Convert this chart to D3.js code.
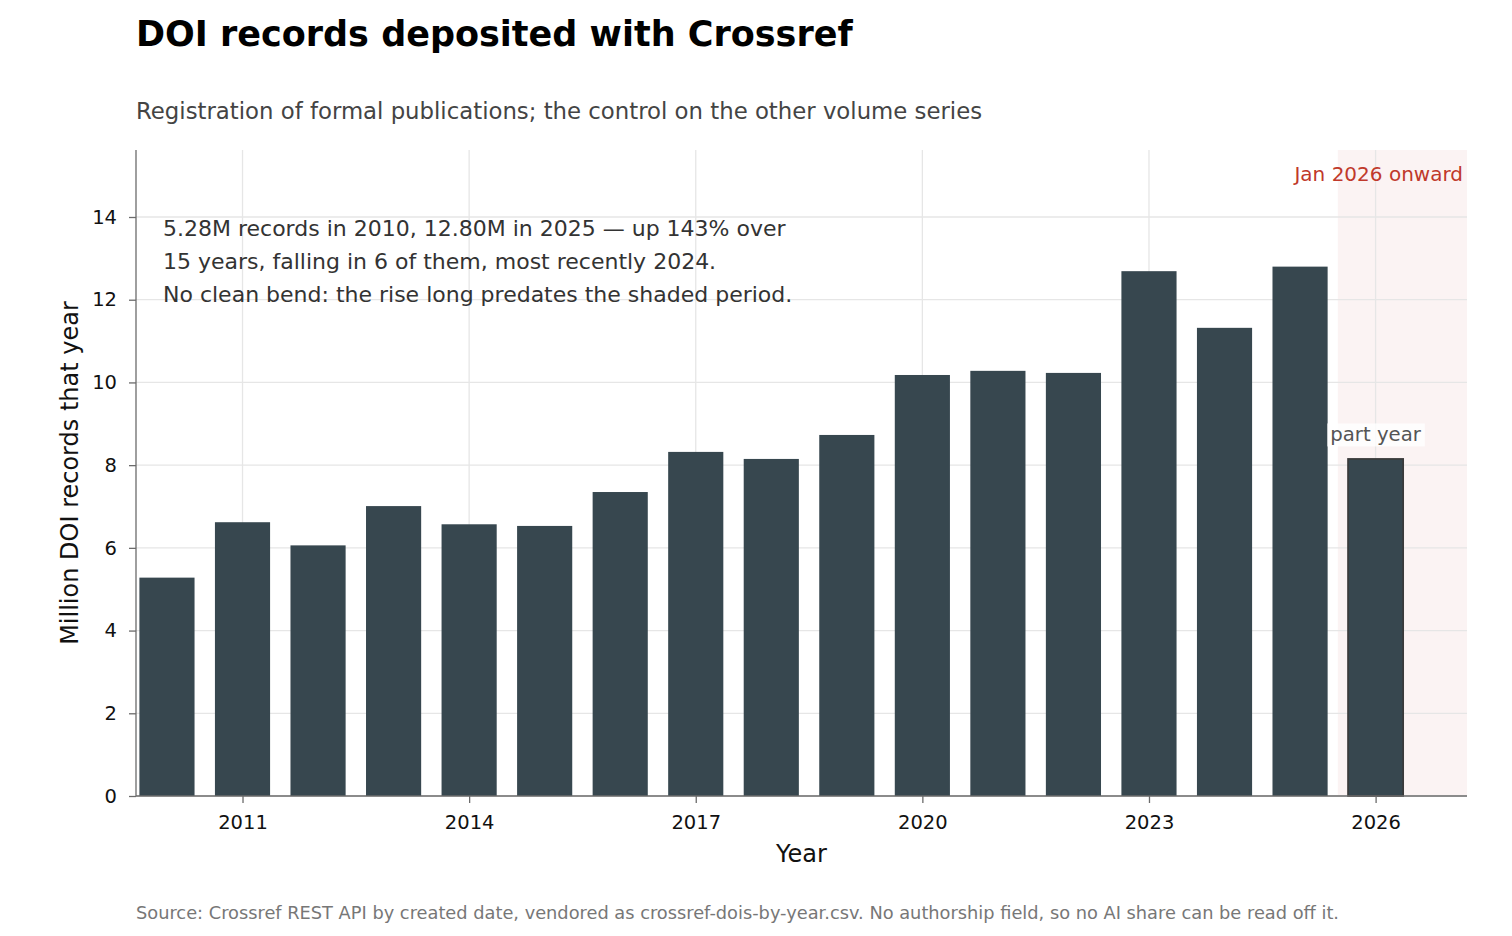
<!DOCTYPE html>
<html>
<head>
<meta charset="utf-8">
<script src="https://cdn.jsdelivr.net/npm/d3@7"></script>
<style>
body { margin: 0; background: #fff; }
text { font-family: "DejaVu Sans", sans-serif; }
.grid line { stroke: #e6e6e6; stroke-width: 1.3; }
.axis path, .axis line { stroke: #6b6b6b; stroke-width: 1.3; }
.axis text { font-size: 19.5px; fill: #111; font-family: "DejaVu Sans", sans-serif; }
</style>
</head>
<body>
<svg width="1512" height="936"></svg>
<script>
const years = [2010, 2011, 2012, 2013, 2014, 2015, 2016, 2017, 2018, 2019, 2020, 2021, 2022, 2023, 2024, 2025, 2026];
const records = [5.28, 6.62, 6.06, 7.01, 6.57, 6.53, 7.35, 8.32, 8.15, 8.73, 10.18, 10.28, 10.23, 12.69, 11.32, 12.80, 8.15];
const xTicks = [2011, 2014, 2017, 2020, 2023, 2026];
const yTicks = [0, 2, 4, 6, 8, 10, 12, 14];
const notes = [
  '5.28M records in 2010, 12.80M in 2025 \u2014 up 143% over',
  '15 years, falling in 6 of them, most recently 2024.',
  'No clean bend: the rise long predates the shaded period.'
];

const svg = d3.select('svg');
const margin = { top: 150, right: 45, bottom: 140, left: 136 };
const width = 1512, height = 936;
const innerW = width - margin.left - margin.right;
const innerH = height - margin.top - margin.bottom;

const x = d3.scaleLinear().domain([2009.59, 2027.21]).range([0, innerW]);
const y = d3.scaleLinear().domain([0, 15.62]).range([innerH, 0]);
const barW = x(2010.73) - x(2010);

const g = svg.append('g').attr('transform', `translate(${margin.left},${margin.top})`);

// shaded period
g.append('rect')
  .attr('x', x(2025.5)).attr('y', 0)
  .attr('width', innerW - x(2025.5)).attr('height', innerH)
  .attr('fill', '#c0392b').attr('fill-opacity', 0.06);

// grid
g.append('g').attr('class', 'grid')
  .selectAll('line').data(yTicks).join('line')
  .attr('x1', 0).attr('x2', innerW)
  .attr('y1', d => y(d)).attr('y2', d => y(d));
g.append('g').attr('class', 'grid')
  .selectAll('line').data(xTicks).join('line')
  .attr('x1', d => x(d)).attr('x2', d => x(d))
  .attr('y1', 0).attr('y2', innerH);

// bars
g.selectAll('.bar').data(years).join('rect')
  .attr('class', 'bar')
  .attr('x', d => x(d) - barW / 2)
  .attr('width', barW)
  .attr('y', (d, i) => y(records[i]))
  .attr('height', (d, i) => innerH - y(records[i]))
  .attr('fill', '#37474f')
  .attr('stroke', (d, i) => i === years.length - 1 ? '#3a3a3a' : 'none')
  .attr('stroke-width', 1.7);

// axes
const xAxis = g.append('g').attr('class', 'axis')
  .attr('transform', `translate(0,${innerH})`)
  .call(d3.axisBottom(x).tickValues(xTicks).tickFormat(d3.format('d')).tickSize(7).tickPadding(12).tickSizeOuter(0));
const yAxis = g.append('g').attr('class', 'axis')
  .call(d3.axisLeft(y).tickValues(yTicks).tickSize(7).tickPadding(12).tickSizeOuter(0));
xAxis.select('.domain').attr('d', `M0,0H${innerW}`);
yAxis.select('.domain').attr('d', `M0,${innerH}V0`);

// annotation
const note = g.append('text').attr('font-size', 22).attr('fill', '#333');
notes.forEach((t, i) => {
  note.append('tspan').attr('x', 27).attr('y', 86 + i * 33).text(t);
});

g.append('text')
  .attr('x', innerW - 4).attr('y', 31)
  .attr('text-anchor', 'end').attr('font-size', 20).attr('fill', '#c0392b')
  .text('Jan 2026 onward');

const py = y(records[records.length - 1]) - 17.5;
const pLabel = g.append('text')
  .attr('x', x(2026)).attr('y', py)
  .attr('text-anchor', 'middle').attr('font-size', 19.7).attr('fill', '#555')
  .text('part year');
const bb = pLabel.node().getBBox();
g.insert('rect', () => pLabel.node())
  .attr('x', bb.x - 3).attr('y', bb.y)
  .attr('width', bb.width + 6).attr('height', bb.height)
  .attr('fill', '#fff').attr('fill-opacity', 0.8);

// titles
svg.append('text').attr('x', 136).attr('y', 46)
  .attr('font-size', 35).attr('font-weight', 'bold').attr('fill', '#000')
  .text('DOI records deposited with Crossref');
svg.append('text').attr('x', 136).attr('y', 119)
  .attr('font-size', 22.8).attr('fill', '#444')
  .text('Registration of formal publications; the control on the other volume series');

svg.append('text')
  .attr('transform', `translate(78,${margin.top + innerH / 2}) rotate(-90)`)
  .attr('text-anchor', 'middle').attr('font-size', 24).attr('fill', '#111')
  .text('Million DOI records that year');
svg.append('text')
  .attr('x', margin.left + innerW / 2).attr('y', 862)
  .attr('text-anchor', 'middle').attr('font-size', 24).attr('fill', '#111')
  .text('Year');

svg.append('text').attr('x', 136).attr('y', 919)
  .attr('font-size', 17.8).attr('fill', '#777')
  .text('Source: Crossref REST API by created date, vendored as crossref-dois-by-year.csv. No authorship field, so no AI share can be read off it.');
</script>
</body>
</html>
